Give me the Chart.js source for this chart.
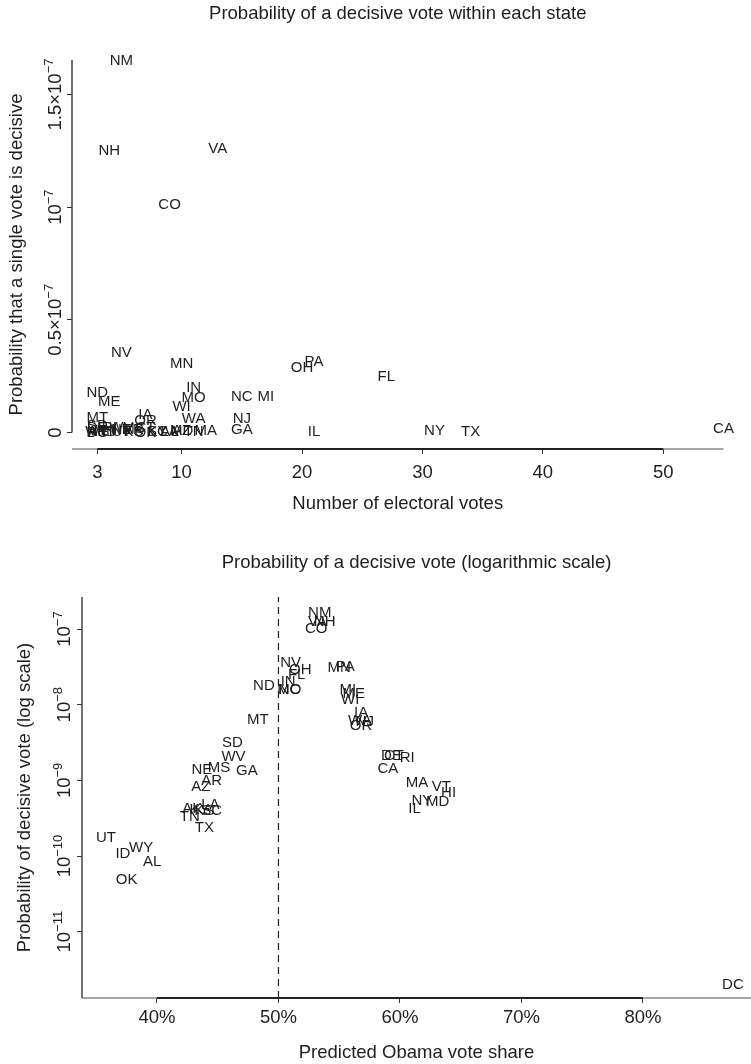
<!DOCTYPE html>
<html>
<head>
<meta charset="utf-8">
<script src="https://cdn.jsdelivr.net/npm/chart.js@4.4.1/dist/chart.umd.min.js"></script>
<style>
  body { margin: 0; background: #fff; }
  .box { position: relative; width: 751px; }
  #topBox { height: 530px; }
  #bottomBox { height: 534px; }
</style>
</head>
<body>
<div class="box" id="topBox"><canvas id="topChart"></canvas></div>
<div class="box" id="bottomBox"><canvas id="bottomChart"></canvas></div>
<script>
// state data
const states = ['AL', 'AK', 'AZ', 'AR', 'CA', 'CO', 'CT', 'DE', 'DC', 'FL', 'GA', 'HI', 'ID',
  'IL', 'IN', 'IA', 'KS', 'KY', 'LA', 'ME', 'MD', 'MA', 'MI', 'MN', 'MS', 'MO', 'MT', 'NE',
  'NV', 'NH', 'NJ', 'NM', 'NY', 'NC', 'ND', 'OH', 'OK', 'OR', 'PA', 'RI', 'SC', 'SD', 'TN',
  'TX', 'UT', 'VT', 'VA', 'WA', 'WV', 'WI', 'WY'];
const electoralVotes = [9, 3, 10, 6, 55, 9, 7, 3, 3, 27, 15, 4, 4,
  21, 11, 7, 6, 8, 9, 4, 10, 12, 17, 10, 6, 11, 3, 5,
  5, 4, 15, 5, 31, 15, 3, 20, 7, 7, 21, 4, 8, 3, 11,
  34, 5, 3, 13, 11, 5, 10, 3];
const obamaShare = [39.6, 42.9, 43.6, 44.5, 59.0, 53.1, 59.5, 59.3, 87.4, 51.5, 47.4, 64.0, 37.2,
  61.2, 50.8, 56.8, 43.9, 43.5, 44.4, 56.2, 63.1, 61.4, 55.7, 55.0, 45.1, 50.9, 48.3, 43.7,
  51.0, 53.8, 57.1, 53.4, 61.8, 50.9, 48.8, 51.8, 37.5, 56.8, 55.5, 60.6, 44.5, 46.2, 42.7,
  43.9, 35.8, 63.4, 53.2, 56.7, 46.3, 55.9, 38.7];
const decisiveProb = [8.4e-11, 4.15e-10, 8.1e-10, 9.8e-10, 1.4e-9, 1.01e-7, 2.1e-9, 2.1e-9, 2.0e-12, 2.45e-8, 1.33e-9, 6.9e-10, 1.07e-10,
  4.2e-10, 2.0e-8, 7.8e-9, 4.0e-10, 4.1e-10, 4.7e-10, 1.38e-8, 5.2e-10, 9.2e-10, 1.56e-8, 3.05e-8, 1.48e-9, 1.55e-8, 6.3e-9, 1.37e-9,
  3.52e-8, 1.25e-7, 6.0e-9, 1.65e-7, 5.35e-10, 1.59e-8, 1.75e-8, 2.85e-8, 4.9e-11, 5.2e-9, 3.12e-8, 1.96e-9, 3.9e-10, 3.15e-9, 3.3e-10,
  2.33e-10, 1.72e-10, 8.3e-10, 1.26e-7, 6.2e-9, 2.06e-9, 1.16e-8, 1.29e-10];

// ticks
const evTicks = [3, 10, 20, 30, 40, 50];
const topYTicks = [0, 0.5e-7, 1e-7, 1.5e-7];
const topYTickBase = ['0', '0.5\u00d710', '10', '1.5\u00d710'];
const topYTickExp = ['', '\u22127', '\u22127', '\u22127'];
const shareTicks = [40, 50, 60, 70, 80];
const logYTicks = [1e-7, 1e-8, 1e-9, 1e-10, 1e-11];
const logYTickBase = ['10', '10', '10', '10', '10'];
const logYTickExp = ['\u22127', '\u22128', '\u22129', '\u221210', '\u221211'];
const evenSplit = 50;

const fontFamily = "'Liberation Sans', Arial, Helvetica, sans-serif";
const ink = '#1e1e1e';
Chart.defaults.font.family = fontFamily;
Chart.defaults.color = ink;

const stateLabels = {
    id: 'stateLabels',
    afterDatasetsDraw(chart) {
        const ctx = chart.ctx;
        const meta = chart.getDatasetMeta(0);
        ctx.save();
        ctx.font = '15px ' + fontFamily;
        ctx.fillStyle = ink;
        ctx.textAlign = 'center';
        ctx.textBaseline = 'middle';
        meta.data.forEach((pt, i) => ctx.fillText(states[i], pt.x, pt.y));
        ctx.restore();
    }
};

// R-style detached axes, rotated y labels with exponents, panel title
function rAxes(cfg) {
    return {
        id: 'rAxes',
        afterDraw(chart) {
            const ctx = chart.ctx;
            const a = chart.chartArea;
            const x = chart.scales.x;
            const y = chart.scales.y;
            ctx.save();
            const x0 = x.getPixelForValue(x.ticks[0].value);
            const x1 = x.getPixelForValue(x.ticks[x.ticks.length - 1].value);
            ctx.strokeStyle = '#8a8a8a';
            ctx.lineWidth = 1.5;
            ctx.beginPath();
            ctx.moveTo(a.left, a.bottom); ctx.lineTo(x0, a.bottom);
            ctx.moveTo(x1, a.bottom); ctx.lineTo(a.right, a.bottom);
            ctx.stroke();
            ctx.strokeStyle = '#222';
            ctx.lineWidth = 2;
            ctx.beginPath();
            ctx.moveTo(x0, a.bottom); ctx.lineTo(x1, a.bottom);
            ctx.stroke();

            ctx.strokeStyle = '#444';
            ctx.lineWidth = 1.5;
            ctx.beginPath();
            const yStart = cfg.yFrom === null ? a.bottom : y.getPixelForValue(cfg.yFrom);
            ctx.moveTo(a.left, yStart); ctx.lineTo(a.left, a.top);
            ctx.stroke();

            ctx.fillStyle = ink;
            const baseFont = '18.5px ' + fontFamily;
            const expFont = '13px ' + fontFamily;
            y.ticks.forEach((t, i) => {
                const py = y.getPixelForValue(t.value);
                const base = cfg.bases[i];
                const exp = cfg.exps[i];
                ctx.save();
                ctx.translate(cfg.labelX, py);
                ctx.rotate(-Math.PI / 2);
                ctx.textAlign = 'left';
                ctx.textBaseline = 'alphabetic';
                ctx.font = baseFont;
                const wb = ctx.measureText(base).width;
                ctx.font = expFont;
                const we = exp ? ctx.measureText(exp).width : 0;
                const sx = -(wb + we) / 2;
                ctx.font = baseFont;
                ctx.fillText(base, sx, 6.6);
                if (exp) {
                    ctx.font = expFont;
                    ctx.fillText(exp, sx + wb, -1.5);
                }
                ctx.restore();
            });

            ctx.font = '18.5px ' + fontFamily;
            ctx.textAlign = 'center';
            ctx.textBaseline = 'middle';
            ctx.fillText(cfg.title, (a.left + a.right) / 2, cfg.titleY);
            ctx.restore();
        }
    };
}

const tickGrid = { drawOnChartArea: false, drawTicks: true, tickLength: 5, color: '#333', lineWidth: 1 };

new Chart(document.getElementById('topChart'), {
    type: 'scatter',
    data: {
        datasets: [{
            data: states.map((s, i) => ({ x: electoralVotes[i], y: decisiveProb[i] })),
            pointRadius: 0,
            pointHoverRadius: 0
        }]
    },
    options: {
        responsive: true,
        maintainAspectRatio: false,
        animation: false,
        events: [],
        layout: { padding: { top: 60, right: 27.5, left: 0, bottom: 0 } },
        plugins: { legend: { display: false }, tooltip: { enabled: false } },
        scales: {
            x: {
                type: 'linear',
                min: 0.9,
                max: 55,
                afterBuildTicks: s => { s.ticks = evTicks.map(v => ({ value: v })); },
                afterFit: s => { s.height = 81; },
                grid: tickGrid,
                border: { display: false },
                ticks: { autoSkip: false, maxRotation: 0, padding: 7.4, color: ink, font: { size: 18.5 } },
                title: { display: true, text: 'Number of electoral votes', color: ink, font: { size: 18.5 }, padding: { top: 0, bottom: 15.4 } }
            },
            y: {
                type: 'linear',
                min: -0.0732e-7,
                max: 1.653e-7,
                afterBuildTicks: s => { s.ticks = topYTicks.map(v => ({ value: v })); },
                afterFit: s => { s.width = 72; },
                grid: tickGrid,
                border: { display: false },
                ticks: { display: false },
                title: { display: true, text: 'Probability that a single vote is decisive', color: ink, font: { size: 18.5 }, padding: { top: 6, bottom: 0 } }
            }
        }
    },
    plugins: [stateLabels, rAxes({
        title: 'Probability of a decisive vote within each state',
        titleY: 13.5,
        labelX: 54,
        yFrom: 0,
        bases: topYTickBase,
        exps: topYTickExp
    })]
});

const logMin = 1.33e-12;
const logMax = 2.65e-7;

new Chart(document.getElementById('bottomChart'), {
    type: 'scatter',
    data: {
        datasets: [{
            data: states.map((s, i) => ({ x: obamaShare[i], y: decisiveProb[i] })),
            pointRadius: 0,
            pointHoverRadius: 0
        }, {
            data: [{ x: evenSplit, y: logMin }, { x: evenSplit, y: logMax }],
            showLine: true,
            borderColor: '#222',
            borderWidth: 1.2,
            borderDash: [7, 5],
            pointRadius: 0,
            pointHoverRadius: 0
        }]
    },
    options: {
        responsive: true,
        maintainAspectRatio: false,
        animation: false,
        events: [],
        layout: { padding: { top: 67, right: 0, left: 0, bottom: 0 } },
        plugins: { legend: { display: false }, tooltip: { enabled: false } },
        scales: {
            x: {
                type: 'linear',
                min: 33.83,
                max: 88.89,
                afterBuildTicks: s => { s.ticks = shareTicks.map(v => ({ value: v })); },
                afterFit: s => { s.height = 66; },
                grid: tickGrid,
                border: { display: false },
                ticks: { autoSkip: false, maxRotation: 0, padding: 4.2, color: ink, font: { size: 18.5 }, callback: v => v + '%' },
                title: { display: true, text: 'Predicted Obama vote share', color: ink, font: { size: 18.5 }, padding: { top: 0, bottom: 0 } }
            },
            y: {
                type: 'logarithmic',
                min: logMin,
                max: logMax,
                afterBuildTicks: s => { s.ticks = logYTicks.map(v => ({ value: v })); },
                afterFit: s => { s.width = 82; },
                grid: tickGrid,
                border: { display: false },
                ticks: { display: false },
                title: { display: true, text: 'Probability of decisive vote (log scale)', color: ink, font: { size: 18.5 }, padding: { top: 14, bottom: 0 } }
            }
        }
    },
    plugins: [stateLabels, rAxes({
        title: 'Probability of a decisive vote (logarithmic scale)',
        titleY: 33.3,
        labelX: 63.5,
        yFrom: null,
        bases: logYTickBase,
        exps: logYTickExp
    })]
});
</script>
</body>
</html>
